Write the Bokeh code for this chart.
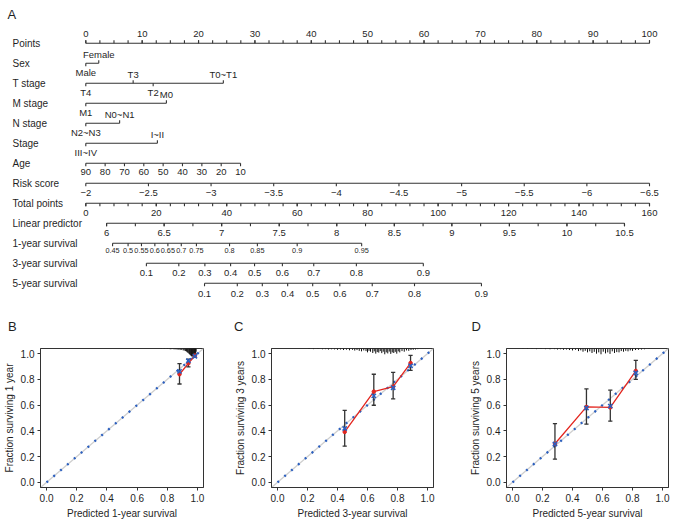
import numpy as np
from bokeh.plotting import figure
from bokeh.layouts import column, row
from bokeh.models import Range1d, FixedTicker, NumeralTickFormatter
from bokeh.embed import file_html
from bokeh.resources import INLINE
from bokeh.core.properties import value

FONT = "Liberation Sans"
INK = "#1f1f1f"
LINE = "#333333"
RED = "#e3261f"
BLUE = "#2b5fbf"

# ------------------------------------------------------------------ nomogram data
row_names = ["Points", "Sex", "T stage", "M stage", "N stage", "Stage", "Age",
             "Risk score", "Total points", "Linear predictor",
             "1-year survival", "3-year survival", "5-year survival"]
points_ticks = [0, 10, 20, 30, 40, 50, 60, 70, 80, 90, 100]
sex_levels = ["Male", "Female"]
sex_points = [0.0, 2.3]
t_levels = ["T4", "T3", "T2", "T0~T1"]
t_points = [0.0, 8.4, 11.95, 24.4]
m_levels = ["M1", "M0"]
m_points = [0.0, 14.3]
n_levels = ["N2~N3", "N0~N1"]
n_points = [0.0, 6.0]
stage_levels = ["III~IV", "I~II"]
stage_points = [0.0, 12.7]
age_values = [90, 80, 70, 60, 50, 40, 30, 20, 10]
age_points = [0.0, 3.43, 6.86, 10.29, 13.72, 17.15, 20.59, 24.02, 27.45]
risk_values = [-2, -2.5, -3, -3.5, -4, -4.5, -5, -5.5, -6, -6.5]
total_ticks = [0, 20, 40, 60, 80, 100, 120, 140, 160]
lp_values = [6, 6.5, 7, 7.5, 8, 8.5, 9, 9.5, 10, 10.5]
lp_total_ends = [5.9, 152.9]          # total points at LP 6 and LP 10.5
surv1_labels = ["0.45", "0.5", "0.55", "0.6", "0.65", "0.7", "0.75", "0.8", "0.85", "0.9", "0.95"]
surv1_total = [7.6, 12.0, 15.8, 19.6, 23.3, 27.1, 31.4, 40.8, 48.7, 60.0, 78.3]
surv3_labels = ["0.1", "0.2", "0.3", "0.4", "0.5", "0.6", "0.7", "0.8", "0.9"]
surv3_total = [17.2, 26.4, 33.8, 41.1, 47.9, 55.8, 64.7, 76.8, 95.8]
surv5_labels = ["0.1", "0.2", "0.3", "0.4", "0.5", "0.6", "0.7", "0.8", "0.9"]
surv5_total = [33.7, 43.0, 50.1, 57.3, 64.4, 72.1, 81.3, 93.3, 112.3]

# ------------------------------------------------------------------ calibration data
pred_b = [0.881, 0.940, 0.983]
obs_b = [0.840, 0.925, 0.985]
lo_b = [0.764, 0.897, 0.972]
hi_b = [0.923, 0.957, 0.997]
corr_b = [0.862, 0.945, 0.980]
rug_b_x = [0.76, 0.78, 0.80, 0.82, 0.83, 0.845, 0.855, 0.865, 0.875, 0.885, 0.895, 0.905,
           0.912, 0.92, 0.927, 0.933, 0.938, 0.943, 0.948, 0.952, 0.956, 0.96, 0.964,
           0.968, 0.972, 0.976, 0.979, 0.982, 0.985, 0.988, 0.991]
rug_b_h = [0.003, 0.004, 0.004, 0.006, 0.005, 0.007, 0.006, 0.009, 0.008, 0.012, 0.010, 0.014,
           0.016, 0.020, 0.024, 0.030, 0.034, 0.040, 0.045, 0.050, 0.055, 0.060, 0.062,
           0.060, 0.065, 0.062, 0.060, 0.055, 0.050, 0.040, 0.025]

pred_c = [0.448, 0.642, 0.771, 0.887]
obs_c = [0.392, 0.705, 0.744, 0.927]
lo_c = [0.281, 0.599, 0.648, 0.870]
hi_c = [0.560, 0.840, 0.855, 0.987]
corr_c = [0.418, 0.672, 0.735, 0.905]
rug_c_x = [0.21, 0.24, 0.27, 0.30, 0.32, 0.34, 0.36, 0.38, 0.40, 0.42, 0.44, 0.46, 0.48, 0.50,
           0.515, 0.53, 0.545, 0.56, 0.575, 0.59, 0.60, 0.61, 0.62, 0.635, 0.645, 0.655, 0.665,
           0.675, 0.685, 0.695, 0.705, 0.715, 0.725, 0.735, 0.745, 0.755, 0.765, 0.775, 0.785,
           0.795, 0.805, 0.815, 0.83, 0.845, 0.86, 0.875, 0.89, 0.905, 0.92, 0.935]
rug_c_h = [0.004, 0.005, 0.004, 0.006, 0.005, 0.008, 0.006, 0.007, 0.010, 0.008, 0.012, 0.009,
           0.014, 0.010, 0.016, 0.012, 0.018, 0.022, 0.015, 0.020, 0.030, 0.018, 0.025, 0.035,
           0.022, 0.040, 0.028, 0.032, 0.020, 0.036, 0.025, 0.045, 0.030, 0.038, 0.024, 0.042,
           0.030, 0.035, 0.026, 0.040, 0.022, 0.030, 0.020, 0.025, 0.015, 0.018, 0.012, 0.010,
           0.008, 0.005]

pred_d = [0.283, 0.493, 0.652, 0.822]
obs_d = [0.300, 0.586, 0.582, 0.866]
lo_d = [0.180, 0.452, 0.475, 0.800]
hi_d = [0.457, 0.726, 0.716, 0.948]
corr_d = [0.298, 0.578, 0.592, 0.850]
rug_d_x = [0.07, 0.10, 0.13, 0.16, 0.19, 0.22, 0.25, 0.28, 0.30, 0.32, 0.34, 0.36, 0.38, 0.40,
           0.42, 0.44, 0.455, 0.47, 0.485, 0.50, 0.515, 0.53, 0.545, 0.56, 0.575, 0.59, 0.605,
           0.62, 0.635, 0.65, 0.665, 0.68, 0.695, 0.71, 0.725, 0.74, 0.755, 0.77, 0.785, 0.80,
           0.82, 0.84, 0.86, 0.88, 0.91]
rug_d_h = [0.003, 0.004, 0.003, 0.005, 0.004, 0.005, 0.006, 0.005, 0.008, 0.006, 0.010, 0.008,
           0.012, 0.015, 0.010, 0.020, 0.014, 0.025, 0.018, 0.030, 0.022, 0.035, 0.026, 0.040,
           0.030, 0.045, 0.025, 0.038, 0.030, 0.042, 0.022, 0.035, 0.028, 0.030, 0.020, 0.025,
           0.018, 0.022, 0.015, 0.018, 0.012, 0.010, 0.008, 0.006, 0.004]

cal_ticks = [0.0, 0.2, 0.4, 0.6, 0.8, 1.0]
panel_letters = ["A", "B", "C", "D"]

# ------------------------------------------------------------------ nomogram figure
PAGE_W = 673
NOM_H = 335
CAL_H = 522 - NOM_H
PT0_PX = 85.3            # page x of 0 points
PX_PER_PT = 5.637
ROW_Y0, ROW_DY = 42.7, 20.0
TICK = 3.0


def px2pts(px):
    return (px - PT0_PX) / PX_PER_PT


def tp2pts(tp):
    return np.asarray(tp, dtype=float) * 100.0 / 160.0


def lin(v, v0, v1, p0, p1):
    v = np.asarray(v, dtype=float)
    return p0 + (v - v0) * (p1 - p0) / (v1 - v0)


nom = figure(width=PAGE_W, height=NOM_H, output_backend="svg", toolbar_location=None,
             x_range=Range1d(px2pts(0), px2pts(PAGE_W)),
             y_range=Range1d(NOM_H, 0),
             x_axis_type=None, y_axis_type=None, min_border=0)
nom.outline_line_color = None
nom.grid.visible = False

seg = {"x0": [], "y0": [], "x1": [], "y1": []}
txt = {}


def add_seg(x0, y0, x1, y1):
    seg["x0"].append(float(x0)); seg["y0"].append(float(y0))
    seg["x1"].append(float(x1)); seg["y1"].append(float(y1))


def add_text(x, y, t, size, align="center"):
    key = (size, align)
    txt.setdefault(key, {"x": [], "y": [], "t": []})
    txt[key]["x"].append(float(x)); txt[key]["y"].append(float(y)); txt[key]["t"].append(t)


def row_y(i):
    return ROW_Y0 + ROW_DY * i


def num_axis(i, pos, labels, side, size="9.5px", minor=None, dy=9.5):
    y = row_y(i)
    d = -1 if side == "above" else 1
    pos = list(np.asarray(pos, dtype=float))
    add_seg(min(pos), y, max(pos), y)
    for p in pos:
        add_seg(p, y, p, y + d * TICK)
    if minor is not None:
        for p in minor:
            add_seg(p, y, p, y + d * TICK)
    for p, l in zip(pos, labels):
        add_text(p, y + d * dy, l, size)


def cat_axis(i, pos, labels):
    y = row_y(i)
    add_seg(min(pos), y, max(pos), y)
    order = np.argsort(pos)
    for k, idx in enumerate(order):
        d = 1 if k % 2 == 0 else -1
        add_seg(pos[idx], y, pos[idx], y + d * TICK)
        add_text(pos[idx], y + (9.3 if d > 0 else -8.3), labels[idx], "9.5px")


for i, name in enumerate(row_names):
    add_text(px2pts(12), row_y(i), name, "10px", "left")

num_axis(0, points_ticks, [str(v) for v in points_ticks], "above",
         minor=np.arange(0, 100.01, 2.5), dy=9.4)
cat_axis(1, sex_points, sex_levels)
cat_axis(2, t_points, t_levels)
cat_axis(3, m_points, m_levels)
cat_axis(4, n_points, n_levels)
cat_axis(5, stage_points, stage_levels)
num_axis(6, age_points, [str(v) for v in age_values], "below", dy=9.0)
num_axis(7, lin(risk_values, -2, -6.5, 0, 100),
         [("\u2212" + ("%g" % abs(v))) for v in risk_values], "below", dy=9.5)
num_axis(8, tp2pts(total_ticks), [str(v) for v in total_ticks], "below",
         minor=tp2pts(np.arange(0, 160.01, 4)), dy=10.0)
lp_pts = tp2pts(lin(lp_values, 6, 10.5, lp_total_ends[0], lp_total_ends[1]))
lp_minor = tp2pts(lin(np.arange(6, 10.51, 0.25), 6, 10.5, lp_total_ends[0], lp_total_ends[1]))
num_axis(9, lp_pts, ["%g" % v for v in lp_values], "below", minor=lp_minor, dy=10.0)
num_axis(10, tp2pts(surv1_total), surv1_labels, "below", size="7.3px", dy=7.3)
num_axis(11, tp2pts(surv3_total), surv3_labels, "below", dy=9.8)
num_axis(12, tp2pts(surv5_total), surv5_labels, "below", dy=10.5)

nom.segment(x0=seg["x0"], y0=seg["y0"], x1=seg["x1"], y1=seg["y1"],
            line_color=LINE, line_width=1.1)
for (size, align), d in txt.items():
    nom.text(x=d["x"], y=d["y"], text=d["t"], text_font=value(FONT), text_font_size=size,
             text_align=align, text_baseline="middle", text_color=INK)

# panel letters (A above the nomogram, B/C/D above the calibration panels)
nom.text(x=[px2pts(7), px2pts(7.5), px2pts(233.5), px2pts(471)],
         y=[13.5, 325.7, 325.7, 325.7], text=panel_letters, text_font=value(FONT),
         text_font_size="13px", text_align="left", text_baseline="middle", text_color=INK)


# ------------------------------------------------------------------ calibration figures
def calib(width, left, right, pred, obs, lo, hi, corr, rug_x, rug_h, xlabel, ylabel):
    p = figure(width=width, height=CAL_H, output_backend="svg", toolbar_location=None,
               x_range=Range1d(-0.04, 1.04), y_range=Range1d(-0.04, 1.04),
               min_border_left=left, min_border_right=right,
               min_border_top=13, min_border_bottom=35)
    p.grid.visible = False
    p.outline_line_color = LINE
    p.outline_line_width = 1
    for ax in (p.xaxis[0], p.yaxis[0]):
        ax.ticker = FixedTicker(ticks=cal_ticks, minor_ticks=[])
        ax.formatter = NumeralTickFormatter(format="0.0")
        ax.major_label_text_font = FONT
        ax.major_label_text_font_size = "10px"
        ax.major_label_text_color = INK
        ax.axis_label_text_font = FONT
        ax.axis_label_text_font_size = "10px"
        ax.axis_label_text_font_style = "normal"
        ax.axis_label_text_color = INK
        ax.axis_line_color = LINE
        ax.major_tick_line_color = LINE
        ax.major_tick_out = 3
        ax.major_tick_in = 0
        ax.major_label_standoff = 3
        ax.axis_label_standoff = 3
    p.xaxis.axis_label = xlabel
    p.yaxis.axis_label = ylabel

    p.line([-0.04, 1.04], [-0.04, 1.04], line_color="#cfcfcf", line_width=1.3)
    p.line([0, 1.04], [0, 1.04], line_color=BLUE, line_width=2.3, line_dash="2 7")

    n = len(rug_x)
    p.segment(x0=rug_x, y0=[1.04] * n, x1=rug_x, y1=[1.04 - h for h in rug_h],
              line_color="#111111", line_width=1)

    p.line(pred, obs, line_color=RED, line_width=1.3)
    p.segment(x0=pred, y0=lo, x1=pred, y1=hi, line_color=LINE, line_width=1.3)
    cw = 0.014
    p.segment(x0=[v - cw for v in pred], y0=lo, x1=[v + cw for v in pred], y1=lo,
              line_color=LINE, line_width=1.3)
    p.segment(x0=[v - cw for v in pred], y0=hi, x1=[v + cw for v in pred], y1=hi,
              line_color=LINE, line_width=1.3)
    p.scatter(pred, obs, marker="circle", size=3.5, fill_color=RED, line_color=RED)
    p.scatter(pred, corr, marker="x", size=6, line_color=BLUE, line_width=1.6)
    return p


pb = calib(230, 40, 27, pred_b, obs_b, lo_b, hi_b, corr_b, rug_b_x, rug_b_h,
           "Predicted 1-year survival", "Fraction surviving 1 year")
pc = calib(236, 41, 33, pred_c, obs_c, lo_c, hi_c, corr_c, rug_c_x, rug_c_h,
           "Predicted 3-year survival", "Fraction surviving 3 years")
pd = calib(207, 40, 5, pred_d, obs_d, lo_d, hi_d, corr_d, rug_d_x, rug_d_h,
           "Predicted 5-year survival", "Fraction surviving 5 years")

layout = column(nom, row(pb, pc, pd))
open("out.html", "w").write(file_html(layout, INLINE))
